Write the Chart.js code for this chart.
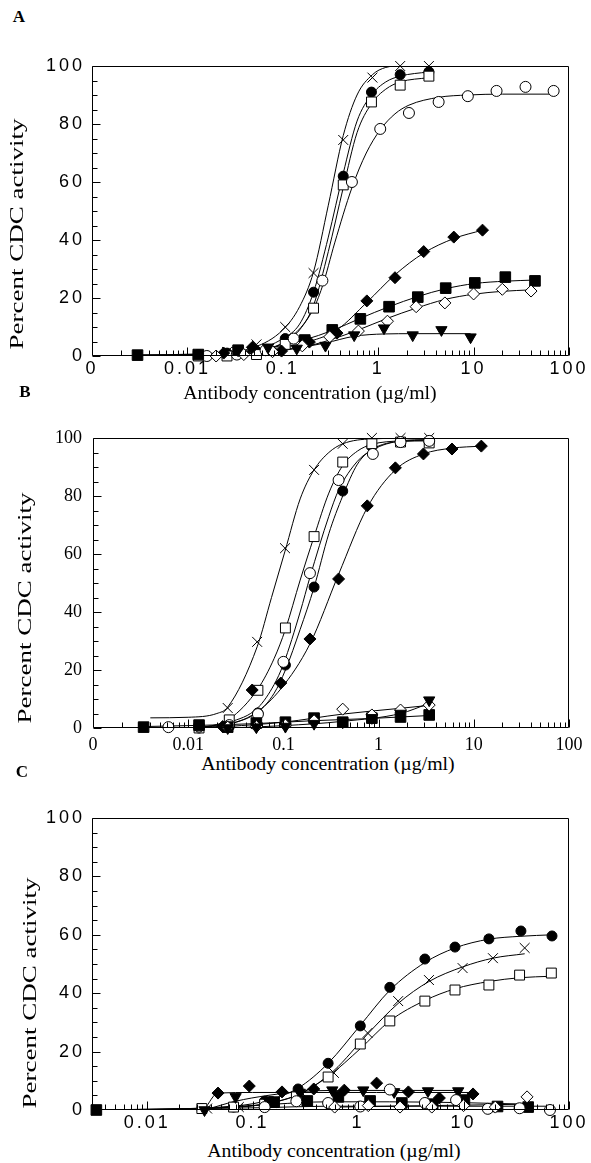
<!DOCTYPE html>
<html>
<head>
<meta charset="utf-8">
<script src="https://cdn.jsdelivr.net/npm/chart.js@4"></script>
<style>
  body { margin: 0; background: #fff; }
  #page { position: relative; width: 591px; height: 1163px; overflow: hidden; background: #fff;
          font-family: "Liberation Serif", "Times New Roman", serif; color: #000; }
  canvas { position: absolute; left: 0; }
  .tag { position: absolute; font-weight: bold; font-size: 17px; transform: translate(-50%, -50%); }
  .xt { position: absolute; font-size: 18px; white-space: nowrap; transform: translate(-50%, -50%) scaleX(1.1); }
  .yt { position: absolute; font-size: 18px; white-space: nowrap; transform: translate(-50%, -50%) rotate(-90deg) scaleX(1.5); }
</style>
</head>
<body>
<div id="page">
  <canvas id="chartA" width="591" height="340" style="top:40px"></canvas>
  <canvas id="chartB" width="591" height="350" style="top:400px"></canvas>
  <canvas id="chartC" width="591" height="360" style="top:780px"></canvas>

  <div class="tag" style="left:19px; top:17px">A</div>
  <div class="tag" style="left:25px; top:392px">B</div>
  <div class="tag" style="left:22px; top:772px">C</div>

  <div class="yt" style="left:17px; top:234px">Percent CDC activity</div>
  <div class="yt" style="left:25px; top:608px">Percent CDC activity</div>
  <div class="yt" style="left:30px; top:993px">Percent CDC activity</div>

  <div class="xt" style="left:310px; top:393px">Antibody concentration (µg/ml)</div>
  <div class="xt" style="left:328px; top:764px">Antibody concentration (µg/ml)</div>
  <div class="xt" style="left:334px; top:1151px">Antibody concentration (µg/ml)</div>
</div>

<script>
// Тики осей
const xTicksAB = [0.001, 0.01, 0.1, 1, 10, 100];
const xLabelsAB = ['0', '0.01', '0.1', '1', '10', '100'];
const xTicksC = [0.01, 0.1, 1, 10, 100];
const xLabelsC = ['0.01', '0.1', '1', '10', '100'];
const yTicks = [0, 20, 40, 60, 80, 100];

// Панель A: точки [концентрация, %] и подогнанные кривые
const aCross = [[0.013, 0.5], [0.026, 1.4], [0.053, 4], [0.106, 10], [0.21, 28.6], [0.43, 74.5], [0.87, 96], [1.7, 100], [3.4, 100]];
const aCrossFit = [[0.003, 0.3], [0.013, 0.6], [0.05, 3], [0.1, 9], [0.15, 17], [0.21, 29], [0.3, 52], [0.43, 76], [0.6, 90], [0.87, 97], [1.2, 99.5], [1.7, 100], [3.4, 100]];
const aDot = [[0.013, 0.5], [0.026, 1], [0.053, 1.5], [0.106, 6], [0.21, 22], [0.43, 62], [0.85, 91], [1.7, 97], [3.4, 98]];
const aDotFit = [[0.003, 0.3], [0.013, 0.5], [0.05, 2], [0.1, 6], [0.15, 11], [0.21, 22], [0.3, 41], [0.43, 63], [0.6, 81], [0.85, 90], [1.2, 94.5], [1.7, 96.5], [3.4, 98]];
const aBox = [[0.013, 0], [0.026, 0], [0.053, 0.5], [0.106, 4], [0.21, 16.5], [0.43, 59], [0.85, 87.6], [1.7, 93.4], [3.4, 96.5]];
const aBoxFit = [[0.003, 0.2], [0.013, 0.3], [0.05, 1.5], [0.1, 4.5], [0.15, 9], [0.21, 17.5], [0.3, 36], [0.43, 58], [0.6, 77], [0.85, 87], [1.2, 92], [1.7, 94.5], [3.4, 96]];
const aRing = [[0.016, 0], [0.033, 0.5], [0.066, 2], [0.13, 6], [0.26, 26], [0.53, 60], [1.05, 78.3], [2.1, 83.8], [4.3, 87.6], [8.7, 89.6], [17.4, 91.4], [35, 92.8], [69, 91.4]];
const aRingFit = [[0.016, 0.3], [0.05, 1.5], [0.1, 4.5], [0.2, 15], [0.26, 24], [0.35, 39], [0.53, 58], [0.75, 70], [1.05, 78], [1.5, 83.5], [2.1, 86.5], [4.3, 89.2], [8.7, 90], [20, 90.3], [69, 90.3]];
const aDia = [[0.024, 1], [0.048, 3], [0.097, 1.7], [0.19, 4.8], [0.37, 7.9], [0.76, 19], [1.5, 27], [3.0, 36], [6.2, 41], [12.4, 43.4]];
const aDiaFit = [[0.024, 1], [0.05, 1.8], [0.1, 3], [0.19, 5], [0.37, 9], [0.76, 18.5], [1.5, 28], [3.0, 35.5], [6.2, 40.5], [12.4, 43.4]];
const aSq = [[0.003, 0.3], [0.013, 0.5], [0.034, 2], [0.17, 5.5], [0.33, 9], [0.65, 12.8], [1.3, 17], [2.6, 20.3], [5.1, 23.4], [10.3, 25.2], [21.5, 27.2], [44, 25.9]];
const aSqFit = [[0.003, 0.3], [0.013, 0.7], [0.034, 1.5], [0.085, 3.2], [0.17, 5.6], [0.33, 8.8], [0.65, 13], [1.3, 17], [2.6, 20.5], [5.1, 23.2], [10.3, 25], [21.5, 25.8], [44, 26.2]];
const aODia = [[0.02, 0], [0.039, 0.5], [0.078, 1.5], [0.16, 3.5], [0.31, 6.6], [0.62, 8.6], [1.25, 12], [2.5, 17], [5, 18.3], [10, 21.4], [20, 23], [40, 22.4]];
const aODiaFit = [[0.02, 0.3], [0.039, 0.7], [0.078, 1.5], [0.16, 3], [0.31, 5.5], [0.62, 9], [1.25, 13], [2.5, 16.5], [5, 19.5], [10, 21.3], [20, 22.3], [40, 22.8]];
const aTri = [[0.034, 2], [0.07, 3], [0.14, 2.6], [0.28, 3.6], [0.56, 7.2], [1.15, 9.6], [2.3, 7.2], [4.6, 9], [9.3, 6.5]];
const aTriFit = [[0.034, 1.5], [0.07, 2], [0.14, 2.8], [0.28, 4.5], [0.56, 6.8], [1.15, 7.6], [2.3, 7.7], [4.6, 7.7], [9.3, 7.7]];

// Панель B
const bCross = [[0.026, 6.9], [0.053, 29.7], [0.104, 62], [0.21, 89], [0.42, 98], [0.85, 100], [1.7, 100], [3.4, 100]];
const bCrossFit = [[0.004, 3.5], [0.01, 3.7], [0.02, 5], [0.026, 7.2], [0.053, 28], [0.075, 45], [0.104, 61], [0.15, 79], [0.21, 89], [0.3, 95], [0.42, 98], [0.85, 99.7], [3.4, 100]];
const bBox = [[0.013, 0], [0.027, 2.8], [0.054, 13], [0.105, 34.5], [0.21, 66], [0.42, 91.7], [0.85, 98], [1.7, 98.6], [3.4, 98.3]];
const bBoxFit = [[0.012, 0], [0.02, 1.2], [0.027, 3], [0.054, 13.5], [0.08, 24], [0.105, 34], [0.15, 51], [0.21, 66], [0.3, 81], [0.42, 90.5], [0.6, 95.5], [0.85, 97.8], [1.7, 99], [3.4, 99.2]];
const bRing = [[0.0062, 0.3], [0.013, 0.5], [0.027, 1], [0.054, 4.8], [0.1, 22.8], [0.19, 53.4], [0.38, 85.5], [0.87, 94.5], [1.7, 98.6], [3.4, 99]];
const bRingFit = [[0.012, 0], [0.027, 2], [0.054, 7], [0.08, 15], [0.1, 22], [0.15, 40], [0.19, 52], [0.3, 73], [0.38, 82], [0.6, 92], [0.87, 96], [1.7, 99], [3.4, 99.5]];
const bDot = [[0.013, 0], [0.027, 0.5], [0.054, 5.2], [0.105, 21.7], [0.21, 48.6], [0.42, 81.7], [0.85, 97], [1.7, 98.6], [3.4, 98.6]];
const bDotFit = [[0.012, 0], [0.027, 1.5], [0.054, 5.5], [0.08, 12], [0.105, 20], [0.15, 34], [0.21, 48.5], [0.3, 67], [0.42, 80], [0.6, 91], [0.85, 96], [1.7, 98.8], [3.4, 99]];
const bDia = [[0.023, 0.5], [0.047, 13.1], [0.094, 15.5], [0.19, 30.7], [0.38, 51.4], [0.76, 76.6], [1.5, 89.7], [2.96, 94.5], [5.9, 96.2], [12, 97.2]];
const bDiaFit = [[0.012, 0], [0.025, 1], [0.05, 5], [0.094, 13.5], [0.19, 29], [0.38, 53], [0.76, 76], [1.5, 89], [2.96, 94.5], [5.9, 96.5], [12, 97.2]];
const bSq = [[0.0034, 0.3], [0.013, 1], [0.026, 0.3], [0.052, 1.7], [0.105, 2], [0.21, 3.4], [0.42, 2], [0.85, 3.4], [1.7, 3.8], [3.4, 4.5]];
const bSqFit = [[0.0034, 0.5], [0.013, 0.9], [0.05, 1.5], [0.2, 2.5], [0.85, 3.3], [3.4, 4.3]];
const bODia = [[0.026, 0.3], [0.052, 0.5], [0.105, 1], [0.21, 2.5], [0.42, 6.5], [0.85, 4.5], [1.7, 6.2], [3.4, 7.9]];
const bODiaFit = [[0.026, 0.5], [0.1, 2], [0.42, 4.8], [1.7, 6.8], [3.4, 7.8]];
const bTri = [[0.026, 0], [0.052, 0.3], [0.105, 0.5], [0.21, 1.5], [0.42, 2], [0.85, 3.5], [1.7, 5], [3.4, 9.6]];
const bTriFit = [[0.026, 0], [0.1, 0.8], [0.42, 2.3], [1.7, 5], [3.4, 8.5]];

// Панель C
const cDot = [[0.033, 0.5], [0.066, 1], [0.13, 3], [0.27, 7.2], [0.52, 16], [1.05, 28.8], [2.0, 42], [4.3, 51.7], [8.3, 55.8], [17.4, 58.6], [35, 61.3], [69, 59.6]];
const cDotFit = [[0.003, 0], [0.05, 1], [0.13, 3], [0.27, 7.5], [0.52, 16], [1.05, 29], [2, 41], [4.3, 50.5], [8.3, 55.5], [17.4, 58.5], [35, 59.5], [69, 60]];
const cCross = [[0.037, 0.5], [0.074, 1], [0.15, 2.5], [0.3, 5.5], [0.59, 12.7], [1.23, 26.4], [2.4, 37.3], [4.7, 44.5], [9.8, 48.6], [19, 52], [38, 55.5]];
const cCrossFit = [[0.003, 0], [0.074, 1], [0.15, 2.5], [0.3, 6], [0.59, 13.5], [1.23, 26], [2.4, 36.5], [4.7, 44], [9.8, 49], [19, 52], [38, 53.5]];
const cBox = [[0.033, 0.5], [0.066, 1], [0.13, 2], [0.26, 4.5], [0.52, 11.3], [1.05, 22.6], [2.0, 30.5], [4.3, 37.3], [8.3, 41.1], [17.4, 42.8], [34, 46.2], [68, 46.9]];
const cBoxFit = [[0.003, 0], [0.066, 1], [0.13, 2], [0.26, 5], [0.52, 11.5], [1.05, 21], [2, 30.5], [4.3, 37.5], [8.3, 41.5], [17.4, 44], [34, 45.3], [68, 45.8]];
const cDia = [[0.047, 5.8], [0.093, 8.2], [0.19, 6.2], [0.38, 7.2], [0.74, 6.8], [1.5, 9.2], [3.0, 6.2], [5.9, 4.1], [12.3, 5.5]];
const cDiaFit = [[0.035, 0.3], [0.047, 5.8], [0.1, 6], [1.5, 6], [12.3, 6]];
const cTri = [[0.035, 0], [0.069, 4.5], [0.14, 3.4], [0.28, 6], [0.57, 6.8], [1.12, 6.8], [2.2, 6.2], [4.6, 6.5], [8.9, 6.5]];
const cTriFit = [[0.035, 0], [0.069, 3], [0.14, 5], [0.28, 6.3], [0.57, 6.7], [8.9, 6.7]];
const cSq = [[0.0033, 0], [0.16, 2.7], [0.33, 3.1], [0.65, 4.5], [1.3, 3.1], [2.6, 2.4], [5.1, 2], [10.2, 3.4], [21, 1.2], [41, 1]];
const cSqFit = [[0.003, 0], [0.03, 0.5], [0.16, 2], [0.5, 2.8], [2, 2.8], [10, 2.5], [41, 2]];
const cRing = [[0.13, 1], [0.26, 3], [0.52, 2.4], [1.05, 1.2], [2.0, 7], [4.3, 2.4], [8.5, 3.4], [17, 0.4], [34, 0.6], [66, 0]];
const cRingFit = [[0.003, 0], [0.13, 0.8], [0.5, 1.3], [66, 1.3]];
const cODia = [[0.6, 1], [1.25, 1.5], [2.5, 1], [5, 1], [10, 1.5], [20, 1], [40, 4.5]];
const cODiaFit = [[0.6, 1], [40, 2]];

// Стили маркеров
const MARKERS = {
    cross: { pointStyle: 'crossRot', pointRadius: 7, pointBackgroundColor: '#000' },
    dot:   { pointStyle: 'circle', pointRadius: 5, pointBackgroundColor: '#000' },
    ring:  { pointStyle: 'circle', pointRadius: 5.5, pointBackgroundColor: '#fff' },
    box:   { pointStyle: 'rect', pointRadius: 7, pointBackgroundColor: '#fff' },
    sq:    { pointStyle: 'rect', pointRadius: 7.5, pointBackgroundColor: '#000' },
    dia:   { pointStyle: 'rectRot', pointRadius: 6, pointBackgroundColor: '#000' },
    odia:  { pointStyle: 'rectRot', pointRadius: 6, pointBackgroundColor: '#fff' },
    tri:   { pointStyle: 'triangle', pointRadius: 6.5, pointRotation: 180, pointBackgroundColor: '#000' }
};

const toXY = (arr) => arr.map(([x, y]) => ({ x, y }));

function buildDatasets(series) {
    const sets = [];
    series.forEach(([kind, pts, fit]) => {
        sets.push({
            data: toXY(fit), showLine: true, borderColor: '#000', borderWidth: 1,
            pointRadius: 0, cubicInterpolationMode: 'monotone', order: 2
        });
        sets.push({
            data: toXY(pts), showLine: false, pointBorderColor: '#000', pointBorderWidth: 1,
            clip: false, order: 1, ...MARKERS[kind]
        });
    });
    return sets;
}

// Рамка и внутренние засечки осей
const frameTicks = {
    id: 'frameTicks',
    beforeDraw(chart, args, opts) {
        chart.ctx.letterSpacing = opts.spacing || '0px';
    },
    afterDraw(chart) {
        const { ctx, chartArea: a, scales: { x, y } } = chart;
        ctx.save();
        ctx.letterSpacing = '0px';
        ctx.strokeStyle = '#000';
        ctx.lineWidth = 1;
        ctx.beginPath();
        const L = Math.round(a.left) + 0.5, R = Math.round(a.right) - 0.5;
        const T = Math.round(a.top) + 0.5, B = Math.round(a.bottom) - 0.5;
        ctx.rect(L, T, R - L, B - T);
        for (let v = 0; v <= 100; v += 5) {
            const py = Math.round(y.getPixelForValue(v)) + 0.5;
            ctx.moveTo(L, py);
            ctx.lineTo(L + (v % 20 ? 5 : 8), py);
        }
        for (let e = -3; e <= 2; e++) {
            for (let k = 1; k <= 9; k++) {
                const v = k * Math.pow(10, e);
                if (v < x.min * 0.999 || v > x.max * 1.001) continue;
                const px = Math.round(x.getPixelForValue(v)) + 0.5;
                ctx.moveTo(px, B);
                ctx.lineTo(px, B - (k === 1 ? 8 : 5));
            }
        }
        ctx.stroke();
        ctx.restore();
    }
};

function makeChart(id, series, cfg) {
    return new Chart(document.getElementById(id), {
        type: 'scatter',
        data: { datasets: buildDatasets(series) },
        options: {
            responsive: false,
            animation: false,
            events: [],
            layout: { padding: { top: cfg.top, right: 22, left: 0, bottom: 0 } },
            plugins: {
                legend: { display: false },
                tooltip: { enabled: false },
                frameTicks: { spacing: cfg.spacing }
            },
            scales: {
                x: {
                    type: 'logarithmic', min: cfg.xMin, max: 100,
                    grid: { display: false, drawTicks: false },
                    border: { display: false },
                    afterBuildTicks: (s) => { s.ticks = cfg.xTicks.map(v => ({ value: v })); },
                    afterFit: (s) => { s.height = cfg.xHeight; },
                    ticks: {
                        autoSkip: false, maxRotation: 0, padding: cfg.xPad, color: '#000', font: cfg.font,
                        callback: (v, i) => cfg.xLabels[i]
                    }
                },
                y: {
                    min: 0, max: 100,
                    grid: { display: false, drawTicks: false },
                    border: { display: false },
                    afterBuildTicks: (s) => { s.ticks = yTicks.map(v => ({ value: v })); },
                    afterFit: (s) => { s.width = cfg.yWidth; },
                    ticks: { padding: cfg.yPad, color: '#000', font: cfg.font }
                }
            }
        },
        plugins: [frameTicks]
    });
}

const sans = { family: '"Liberation Sans", Arial, sans-serif', size: 18 };
const serif = { family: '"Liberation Serif", "Times New Roman", serif', size: 18 };

makeChart('chartA', [
    ['tri', aTri, aTriFit], ['odia', aODia, aODiaFit], ['sq', aSq, aSqFit], ['dia', aDia, aDiaFit],
    ['ring', aRing, aRingFit], ['box', aBox, aBoxFit], ['dot', aDot, aDotFit], ['cross', aCross, aCrossFit]
], { top: 26, xHeight: 24, yWidth: 92, xPad: 2, yPad: 7, xMin: 0.001, xTicks: xTicksAB, xLabels: xLabelsAB, font: sans, spacing: '3px' });

makeChart('chartB', [
    ['tri', bTri, bTriFit], ['odia', bODia, bODiaFit], ['sq', bSq, bSqFit], ['dia', bDia, bDiaFit],
    ['ring', bRing, bRingFit], ['box', bBox, bBoxFit], ['dot', bDot, bDotFit], ['cross', bCross, bCrossFit]
], { top: 38, xHeight: 22, yWidth: 93, xPad: 6, yPad: 11, xMin: 0.001, xTicks: xTicksAB, xLabels: xLabelsAB, font: serif, spacing: '0px' });

makeChart('chartC', [
    ['odia', cODia, cODiaFit], ['ring', cRing, cRingFit], ['sq', cSq, cSqFit], ['tri', cTri, cTriFit],
    ['dia', cDia, cDiaFit], ['box', cBox, cBoxFit], ['cross', cCross, cCrossFit], ['dot', cDot, cDotFit]
], { top: 38, xHeight: 30, yWidth: 92, xPad: 2, yPad: 7, xMin: 0.003, xTicks: xTicksC, xLabels: xLabelsC, font: sans, spacing: '3px' });
</script>
</body>
</html>
